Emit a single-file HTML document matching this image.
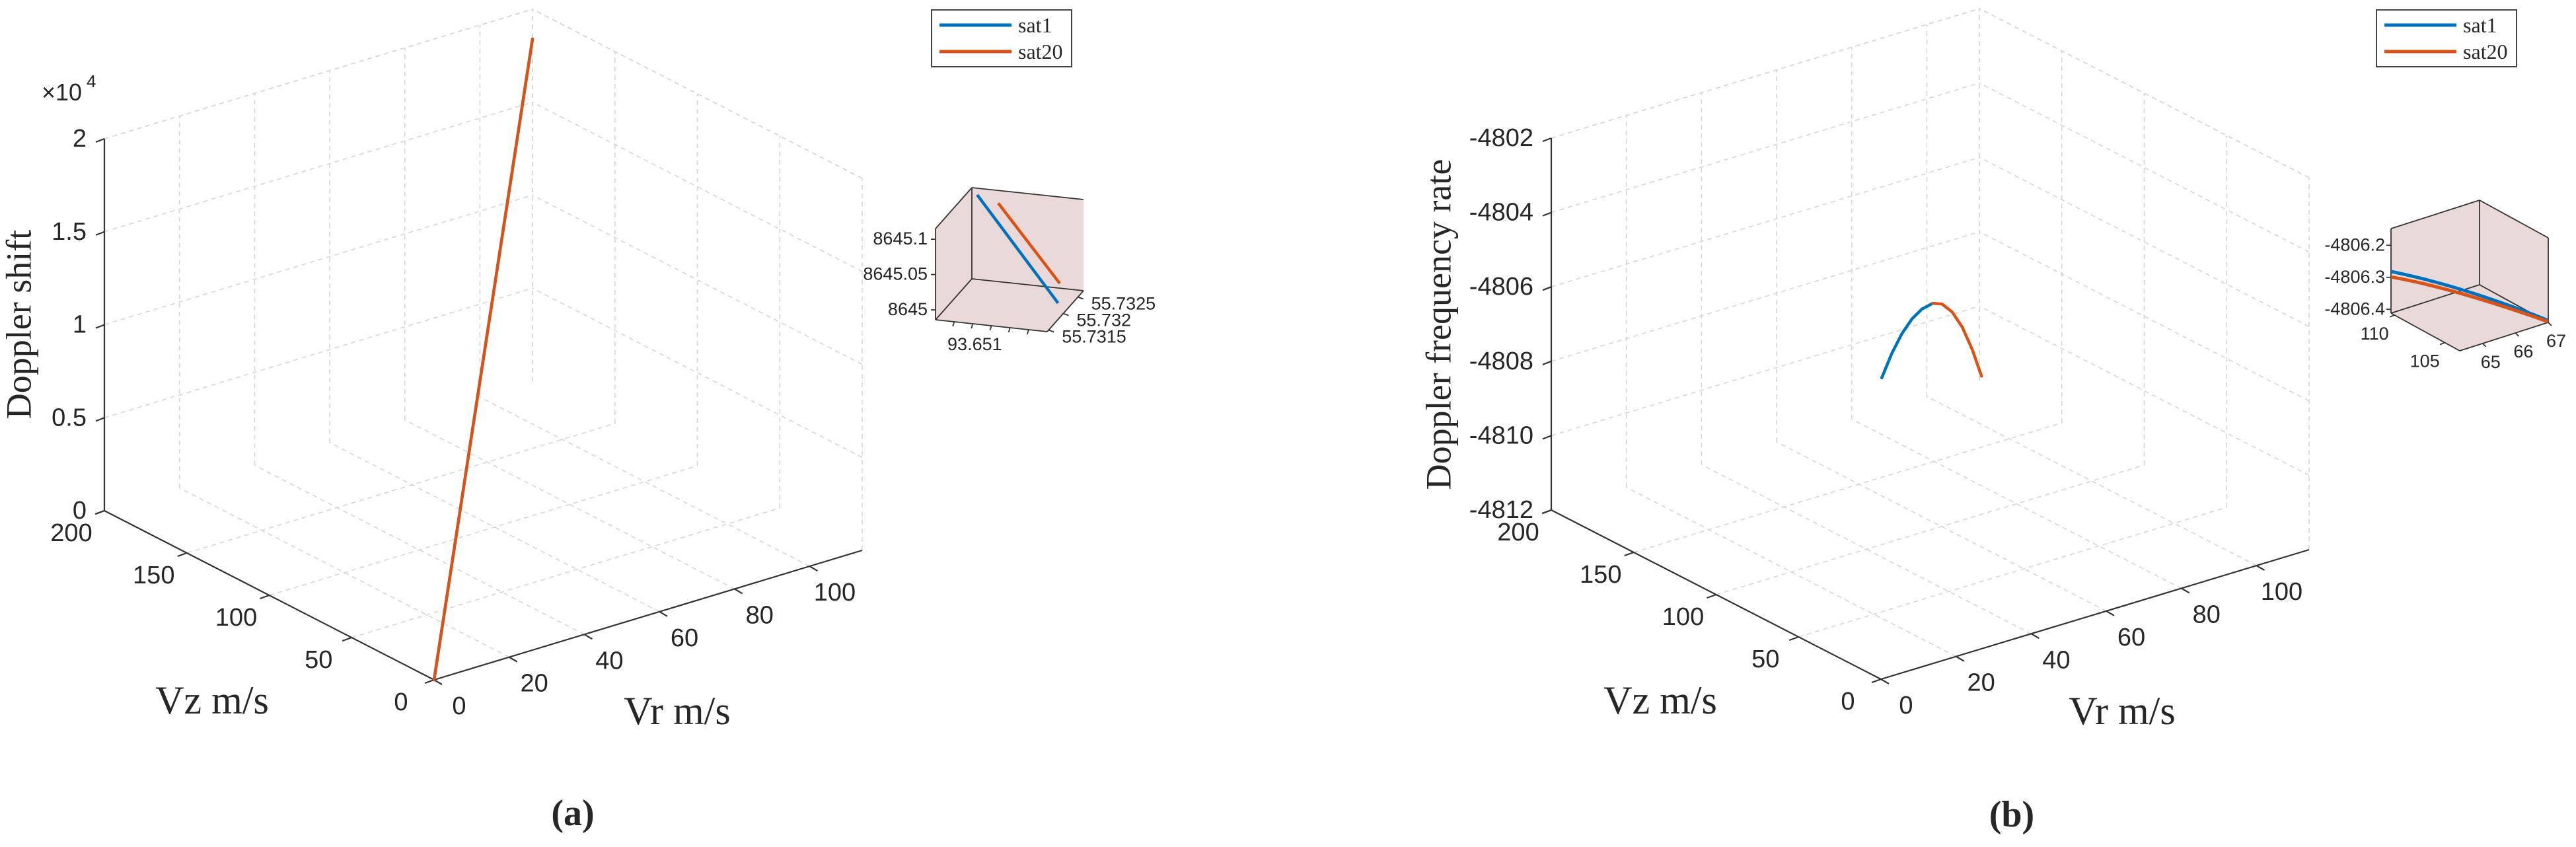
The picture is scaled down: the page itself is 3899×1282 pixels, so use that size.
<!DOCTYPE html>
<html><head><meta charset="utf-8"><style>
html,body{margin:0;padding:0;background:#fff}
svg{display:block}
text{font-family:"Liberation Sans",Arial,sans-serif;fill:#262626}
.ser{font-family:"Liberation Serif","Times New Roman",serif}
</style></head><body>
<svg id="fig" width="3899" height="1282" viewBox="0 0 3899 1282" xmlns="http://www.w3.org/2000/svg"></svg>
<script>
// ---------- data ----------
const vrTicks=[0,20,40,60,80,100];
const vzTicks=[0,50,100,150,200];
const shiftTicks=[0,0.5,1,1.5,2];
const shiftTickLabels=["0","0.5","1","1.5","2"];
const rateTicks=[-4812,-4810,-4808,-4806,-4804,-4802];
const rateTickLabels=["-4812","-4810","-4808","-4806","-4804","-4802"];
// panel a: Doppler shift (x1e4)
const shiftVr=[0,114];
const shiftVz=[0,200];
const shiftSat1=[0,1.84];
const shiftSat20=[0,1.84];
// panel b: Doppler frequency rate
const rateVr1=[48.5,51,53.5,56,58.5,61.2];
const rateVz1=[110,109.6,109.2,108.8,108.4,108];
const rateSat1=[-4807.88,-4807.29,-4806.83,-4806.50,-4806.30,-4806.22];
const rateVr20=[61.2,63.5,66,68.5,71,73.3];
const rateVz20=[108,107.6,107.2,106.8,106.4,106];
const rateSat20=[-4806.22,-4806.30,-4806.58,-4807.05,-4807.72,-4808.5];
// inset a
const insAx1=[93.650924,93.6512];
const insAy1=[55.732566,55.731822];
const insAz1=[8645.112,8645.009];
const insAx20=[93.650971,93.651146];
const insAy20=[55.73269,55.732566];
const insAz20=[8645.097,8644.999];
const insAzTicks=[8645,8645.05,8645.1];
const insAzLabels=["8645","8645.05","8645.1"];
const insAyTicks=[55.7315,55.732,55.7325];
const insAyLabels=["55.7315","55.732","55.7325"];
// inset b
const insBvz1=[110.34,106.9,103.5];
const insBvr1=[64.3,65.53,67];
const insBr1=[-4806.282,-4806.324,-4806.406];
const insBvz20=[110.34,106.9,103.5];
const insBvr20=[64.3,65.38,67];
const insBr20=[-4806.299,-4806.327,-4806.41];
const insBrTicks=[-4806.4,-4806.3,-4806.2];
const insBrLabels=["-4806.4","-4806.3","-4806.2"];
const insBvzTicks=[110,105];
const insBvrTicks=[65,66,67];

// ---------- helpers ----------
const NS="http://www.w3.org/2000/svg";
const svg=document.getElementById('fig');
function el(tag,attrs,parent,txt){const e=document.createElementNS(NS,tag);for(const k in attrs)e.setAttribute(k,attrs[k]);if(txt!==undefined)e.textContent=txt;(parent||svg).appendChild(e);return e;}
function grp(name){const g=document.createElementNS(NS,'g');svg.appendChild(g);return g;}
const VRMAX=114,VZMAX=200,H=563;
const VRX=648/VRMAX,VRY=196/VRMAX,VZX=499/VZMAX,VZY=256/VZMAX;
function makeProj(ox,oy,zmin,zmax){return (vr,vz,z)=>[ox+vr*VRX-vz*VZX, oy-vr*VRY-vz*VZY-(z-zmin)/(zmax-zmin)*H];}
function line(g,a,b,st){return el('line',Object.assign({x1:a[0],y1:a[1],x2:b[0],y2:b[1]},st),g);}
const gridSt={stroke:'#d6d6d6','stroke-width':1.6,'stroke-dasharray':'7 6',fill:'none'};
const axSt={stroke:'#333','stroke-width':2.2};

function panel(ox,oy,zTicks,zLabels,zmin,zmax,prefix){
  const P=makeProj(ox,oy,zmin,zmax);
  const g=grp(prefix+'-grid');
  vrTicks.forEach(v=>{if(v>0){const l=line(g,P(v,0,zmin),P(v,VZMAX,zmin),gridSt);}});
  vzTicks.forEach(v=>{if(v<VZMAX&&v>0){const l=line(g,P(0,v,zmin),P(VRMAX,v,zmin),gridSt);}});
  vrTicks.forEach(v=>{if(v>0){const l=line(g,P(v,VZMAX,zmin),P(v,VZMAX,zmax),gridSt);}});
  zTicks.forEach(z=>{if(z>zmin){const l=line(g,P(0,VZMAX,z),P(VRMAX,VZMAX,z),gridSt);}});
  line(g,P(VRMAX,VZMAX,zmin),P(VRMAX,VZMAX,zmax),gridSt);
  line(g,P(0,VZMAX,zmax),P(VRMAX,VZMAX,zmax),gridSt);
  vzTicks.forEach(v=>{const l=line(g,P(VRMAX,v,zmin),P(VRMAX,v,zmax),gridSt);});
  zTicks.forEach(z=>{if(z>zmin){const l=line(g,P(VRMAX,0,z),P(VRMAX,VZMAX,z),gridSt);}});
  line(g,P(VRMAX,0,zmax),P(VRMAX,VZMAX,zmax),gridSt);
  const ga=grp(prefix+'-axes');
  const za=line(ga,P(0,VZMAX,zmin),P(0,VZMAX,zmax),axSt);
  const vza=line(ga,P(0,0,zmin),P(0,VZMAX,zmin),axSt);
  const vra=line(ga,P(0,0,zmin),P(VRMAX,0,zmin),axSt);
  zTicks.forEach((z,i)=>{const p=P(0,VZMAX,z);line(ga,p,[p[0]-13,p[1]+5],axSt);
    const t=el('text',{x:p[0]-27,y:p[1]+2,'text-anchor':'end','dominant-baseline':'middle','font-size':38},ga,zLabels[i]);
    });
  vzTicks.forEach(v=>{const p=P(0,v,zmin);line(ga,p,[p[0]-14,p[1]+5],axSt);
    const t=el('text',{x:p[0]-50,y:p[1]+36,'text-anchor':'middle','dominant-baseline':'middle','font-size':38},ga,String(v));
    });
  vrTicks.forEach(v=>{const p=P(v,0,zmin);line(ga,p,[p[0]+12,p[1]+7],axSt);
    const t=el('text',{x:p[0]+38,y:p[1]+42,'text-anchor':'middle','dominant-baseline':'middle','font-size':38},ga,String(v));
    });
  return P;
}
function series(P,vr,vz,z,color,name){
  const pts=vr.map((v,i)=>P(v,vz[i],z[i]).join(',')).join(' ');
  const p=el('polyline',{points:pts,fill:'none',stroke:color,'stroke-width':4.5,'stroke-linejoin':'round','stroke-linecap':'round'});
  
}
function legend(x,y,w,h,name){
  const g=grp(name);
  el('rect',{x:x,y:y,width:w,height:h,fill:'#fff',stroke:'#444','stroke-width':2},g);
  el('line',{x1:x+12,y1:y+23,x2:x+121,y2:y+23,stroke:'#0072BD','stroke-width':5},g);
  el('line',{x1:x+12,y1:y+63,x2:x+121,y2:y+63,stroke:'#D95319','stroke-width':5},g);
  const a=el('text',{x:x+131,y:y+34,'font-size':32,class:'ser'},g,'sat1');
  const b=el('text',{x:x+131,y:y+74,'font-size':32,class:'ser'},g,'sat20');
}
function label(x,y,txt,size,name,rot,extra){
  const t=el('text',Object.assign({x:x,y:y,'text-anchor':'middle','dominant-baseline':'middle','font-size':size,class:'ser',fill:'#222'},extra||{}),svg,txt);
  if(rot)t.setAttribute('transform','rotate(-90 '+x+' '+y+')');
  return t;
}

// ---------- panel a ----------
const Pa=panel(657,1029,shiftTicks,shiftTickLabels,0,2,'panel-a');
series(Pa,shiftVr,shiftVz,shiftSat1,'#0072BD','line-sat1-a');
series(Pa,shiftVr,shiftVz,shiftSat20,'#D95319','line-sat20-a');
const ex=el('text',{x:63,y:152,'font-size':36},svg,'\u00d710');
const exs=el('text',{x:131,y:132,'font-size':26},svg,'4');
label(34,491,'Doppler shift',54,'z-axis-title-a',true);
label(321,1066,'Vz m/s',60,'vz-axis-title-a');
label(1025,1082,'Vr m/s',60,'vr-axis-title-a');
label(867,1236,'(a)',56,'caption-a',false,{'font-weight':'bold'});
legend(1410,15,212,86,'legend-a');

// ---------- panel b ----------
const Pb=panel(2847,1028,rateTicks,rateTickLabels,-4812,-4802,'panel-b');
series(Pb,rateVr1,rateVz1,rateSat1,'#0072BD','line-sat1-b');
series(Pb,rateVr20,rateVz20,rateSat20,'#D95319','line-sat20-b');
label(2183,491,'Doppler frequency rate',54,'z-axis-title-b',true);
label(2513,1066,'Vz m/s',60,'vz-axis-title-b');
label(3212,1082,'Vr m/s',60,'vr-axis-title-b');
label(3045,1238,'(b)',56,'caption-b',false,{'font-weight':'bold'});
legend(3597,15,212,86,'legend-b');

// ---------- inset a ----------
(function(){
  const xmin=93.6509,xr=0.0003,ymin=55.73145,yr=0.00124,zmin=8644.986,zr=0.129;
  const O=[1416,484];
  const P=(x,y,z)=>{const a=(x-xmin)/xr,b=(y-ymin)/yr,c=(z-zmin)/zr;return [O[0]+169*a+55*b, O[1]+18*a-62*b-138*c];};
  const g=grp('inset-a');
  const c=[P(xmin,ymin,zmin+zr),P(xmin,ymin+yr,zmin+zr),P(xmin+xr,ymin+yr,zmin+zr),P(xmin+xr,ymin+yr,zmin),P(xmin+xr,ymin,zmin),P(xmin,ymin,zmin)];
  el('polygon',{points:c.map(p=>p.join(',')).join(' '),fill:'#e9d9d9',stroke:'none'},g);
  const st={stroke:'#333','stroke-width':1.8};
  const BB=P(xmin,ymin+yr,zmin),BT=P(xmin,ymin+yr,zmin+zr);
  for(let i=0;i<c.length;i++){if(i!==2)line(g,c[i],c[(i+1)%c.length],st);}
  line(g,BB,BT,st);line(g,BB,c[5],st);line(g,BB,c[3],st);
  insAzTicks.forEach((z,i)=>{const p=P(xmin,ymin,z);line(g,p,[p[0]-7,p[1]],st);
    const t=el('text',{x:p[0]-12,y:p[1]+1,'text-anchor':'end','dominant-baseline':'middle','font-size':27},g,insAzLabels[i]);});
  [93.65095,93.651,93.65105,93.6511,93.65115].forEach(x=>{const p=P(x,ymin,zmin);line(g,p,[p[0]-2,p[1]+7],st);});
  const xp=P(93.651,ymin,zmin);
  const tx=el('text',{x:xp[0]+3,y:xp[1]+40,'text-anchor':'middle','font-size':27},g,'93.651');
  insAyTicks.forEach((y,i)=>{const p=P(xmin+xr,y,zmin);line(g,p,[p[0]+8,p[1]+3],st);
    const t=el('text',{x:p[0]+20,y:p[1]+12,'font-size':27,'dominant-baseline':'middle'},g,insAyLabels[i]);});
  const l1=el('polyline',{points:insAx1.map((x,i)=>P(x,insAy1[i],insAz1[i]).join(',')).join(' '),fill:'none',stroke:'#0072BD','stroke-width':4.5},g);
  
  const l2=el('polyline',{points:insAx20.map((x,i)=>P(x,insAy20[i],insAz20[i]).join(',')).join(' '),fill:'none',stroke:'#D95319','stroke-width':4.5},g);
  
})();

// ---------- inset b ----------
(function(){
  const vz0=110.34,vzr=6.84,vr0=64.3,vrr=2.7,r0=-4806.412,rr=0.264;
  const O=[3619,474];
  const P=(vz,vr,r)=>{const a=(vz0-vz)/vzr,b=(vr-vr0)/vrr,c=(r-r0)/rr;return [O[0]+104*a+134*b, O[1]+57*a-43*b-128*c];};
  const g=grp('inset-b');
  const zt=r0+rr,vzE=vz0-vzr,vrE=vr0+vrr;
  const c=[P(vz0,vr0,zt),P(vz0,vrE,zt),P(vzE,vrE,zt),P(vzE,vrE,r0),P(vzE,vr0,r0),P(vz0,vr0,r0)];
  el('polygon',{points:c.map(p=>p.join(',')).join(' '),fill:'#e9d9d9',stroke:'none'},g);
  const st={stroke:'#333','stroke-width':1.8};
  const BB=P(vz0,vrE,r0);
  for(let i=0;i<c.length;i++){if(i!==1&&i!==2)line(g,c[i],c[(i+1)%c.length],st);}
  line(g,c[1],c[2],st);line(g,c[2],c[3],st);
  line(g,BB,c[1],st);line(g,BB,c[5],st);line(g,BB,c[3],st);
  insBrTicks.forEach((r,i)=>{const p=P(vz0,vr0,r);line(g,p,[p[0]-7,p[1]],st);
    const t=el('text',{x:p[0]-9,y:p[1]+1,'text-anchor':'end','dominant-baseline':'middle','font-size':27},g,insBrLabels[i]);});
  insBvzTicks.forEach(v=>{const p=P(v,vr0,r0);line(g,p,[p[0]-7,p[1]+3],st);
    const t=el('text',{x:p[0]-30,y:p[1]+30,'text-anchor':'middle','font-size':27,'dominant-baseline':'middle'},g,String(v));});
  insBvrTicks.forEach(v=>{const p=P(vzE,v,r0);line(g,p,[p[0]+5,p[1]+5],st);
    const t=el('text',{x:p[0]+12,y:p[1]+30,'text-anchor':'middle','font-size':27,'dominant-baseline':'middle'},g,String(v));});
  const mk=(vz,vr,r)=>{const p=vz.map((v,i)=>P(v,vr[i],r[i]));return 'M'+p[0].join(',')+' Q'+(2*p[1][0]-(p[0][0]+p[2][0])/2)+','+(2*p[1][1]-(p[0][1]+p[2][1])/2)+' '+p[2].join(',');};
  const l1=el('path',{d:mk(insBvz1,insBvr1,insBr1),fill:'none',stroke:'#0072BD','stroke-width':5},g);
  
  const l2=el('path',{d:mk(insBvz20,insBvr20,insBr20),fill:'none',stroke:'#D95319','stroke-width':5},g);
  
})();
</script>
</body></html>
